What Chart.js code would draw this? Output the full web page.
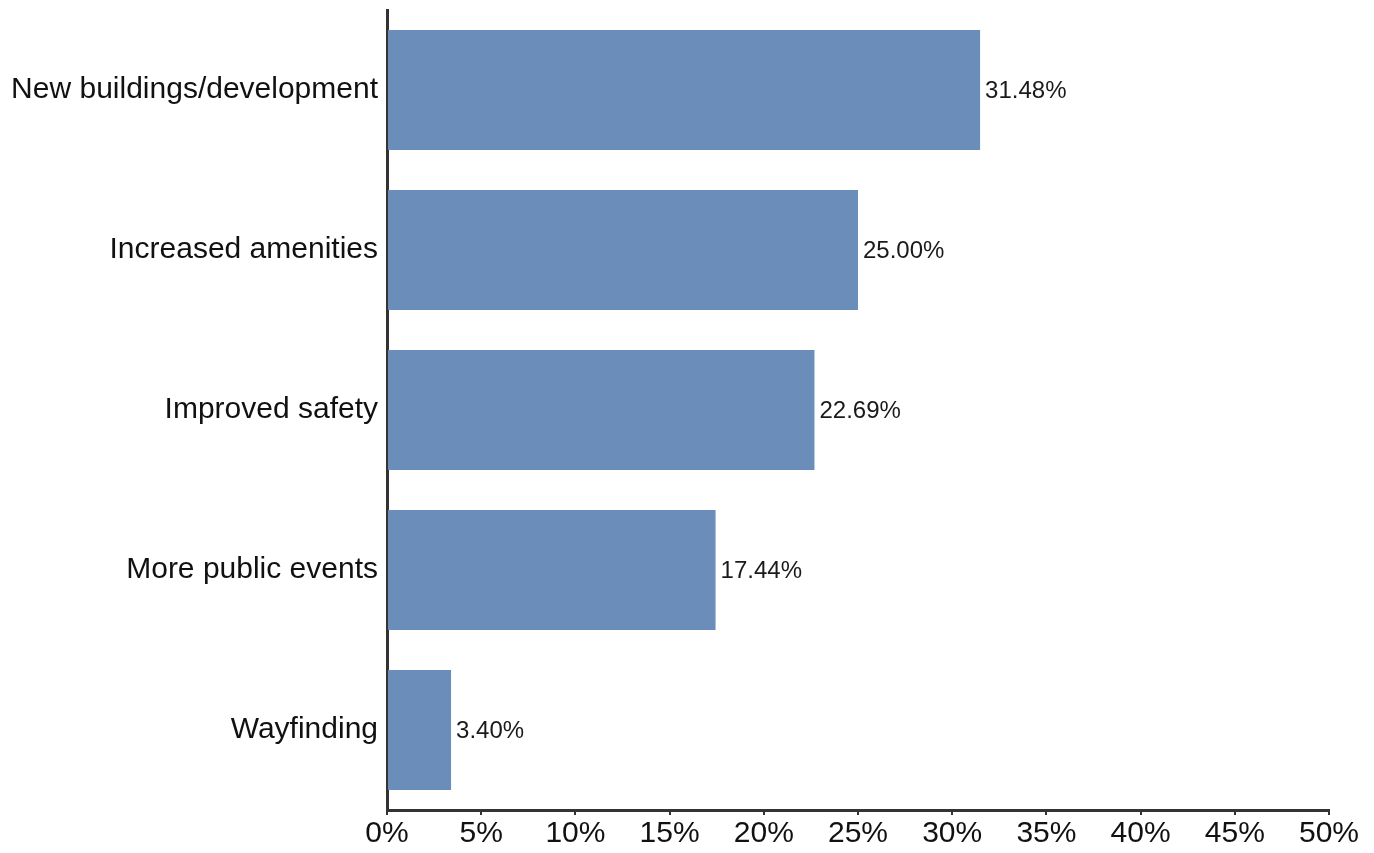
<!DOCTYPE html>
<html>
<head>
<meta charset="utf-8">
<script src="https://cdn.jsdelivr.net/npm/chart.js@4"></script>
<style>
  html, body { margin: 0; padding: 0; background: #fff; }
  #wrap { width: 1374px; height: 853px; }
</style>
</head>
<body>
<div id="wrap"><canvas id="bars"></canvas></div>
<script>
const categories = ["New buildings/development", "Increased amenities", "Improved safety", "More public events", "Wayfinding"];
const shares = [31.48, 25.00, 22.69, 17.44, 3.40];
const xTicks = [0, 5, 10, 15, 20, 25, 30, 35, 40, 45, 50];

const fontFamily = "'Liberation Sans', Arial, sans-serif";

// value labels at the end of each bar
const valueLabels = {
  id: "valueLabels",
  afterDatasetsDraw(chart) {
    const ctx = chart.ctx;
    const meta = chart.getDatasetMeta(0);
    ctx.save();
    ctx.font = "24px " + fontFamily;
    ctx.fillStyle = "#1a1a1a";
    ctx.textAlign = "left";
    ctx.textBaseline = "middle";
    meta.data.forEach((bar, i) => {
      ctx.fillText(shares[i].toFixed(2) + "%", bar.x + 5, bar.y + 1);
    });
    ctx.restore();
  }
};

new Chart(document.getElementById("bars").getContext("2d"), {
  type: "bar",
  data: {
    labels: categories,
    datasets: [{
      data: shares,
      backgroundColor: "#6a8eb9",
      borderWidth: 0,
      categoryPercentage: 1,
      barPercentage: 0.75
    }]
  },
  options: {
    indexAxis: "y",
    responsive: true,
    maintainAspectRatio: false,
    animation: false,
    layout: { padding: { top: 10, right: 45, left: 0, bottom: 0 } },
    plugins: { legend: { display: false }, tooltip: { enabled: false } },
    scales: {
      x: {
        min: 0,
        max: 50,
        afterBuildTicks: (scale) => { scale.ticks = xTicks.map(v => ({ value: v })); },
        afterFit: (scale) => { scale.height = 43; },
        border: { display: true, color: "#333", width: 3 },
        grid: { drawOnChartArea: false, drawTicks: true, tickLength: 5, color: "#333", lineWidth: 2 },
        ticks: {
          callback: (v) => v + "%",
          font: { family: fontFamily, size: 30 },
          color: "#111",
          padding: 1,
          maxRotation: 0
        }
      },
      y: {
        afterFit: (scale) => {
          scale.width = 387;
          scale.paddingTop = 0;
          scale.paddingBottom = 0;
        },
        border: { display: true, color: "#333", width: 3 },
        grid: { drawOnChartArea: false, drawTicks: false },
        ticks: {
          font: { family: fontFamily, size: 30 },
          color: "#111",
          padding: 9
        }
      }
    }
  },
  plugins: [valueLabels]
});
</script>
</body>
</html>
